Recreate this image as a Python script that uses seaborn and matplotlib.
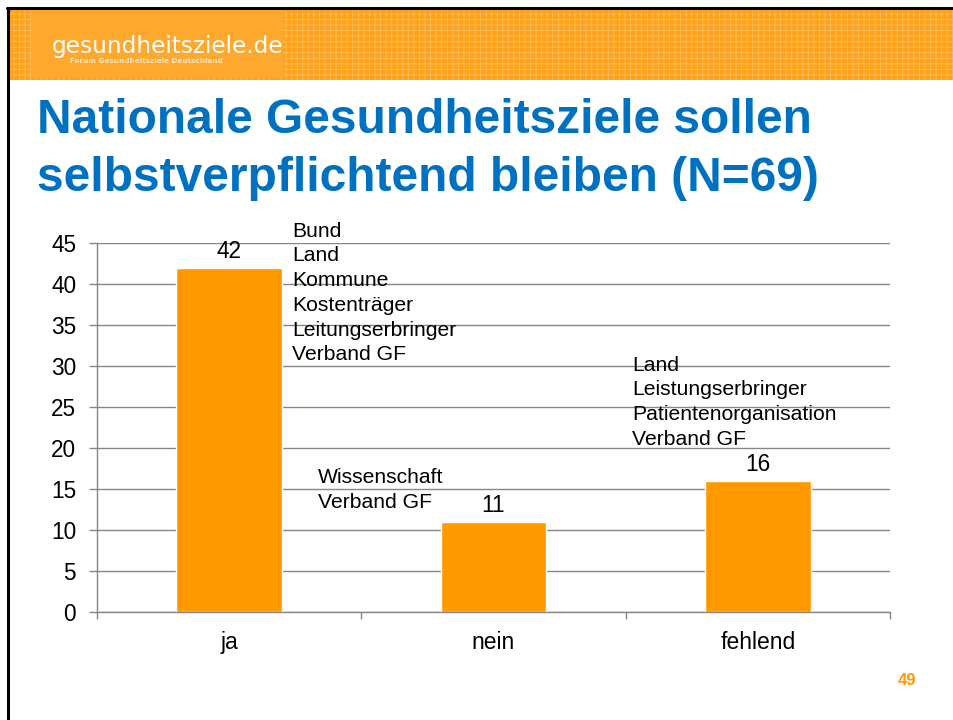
import matplotlib
matplotlib.use("Agg")
import matplotlib.pyplot as plt
import seaborn as sns
import pandas as pd
from matplotlib.patches import Rectangle
from matplotlib.lines import Line2D

# ---- data ----
categories = ["ja", "nein", "fehlend"]
values = [42, 11, 16]
yticks = [0, 5, 10, 15, 20, 25, 30, 35, 40, 45]
notes_ja = ["Bund", "Land", "Kommune", "Kostenträger", "Leitungserbringer", "Verband GF"]
notes_nein = ["Wissenschaft", "Verband GF"]
notes_fehlend = ["Land", "Leistungserbringer", "Patientenorganisation", "Verband GF"]
title_lines = ["Nationale Gesundheitsziele sollen", "selbstverpflichtend bleiben (N=69)"]
logo_text = "gesundheitsziele.de"
logo_sub = "Forum Gesundheitsziele Deutschland"
page_number = "49"

BAR = "#FF9900"
GRID = "#868686"
BLUE = "#0070C0"

sns.set_theme(style="white")
plt.rcParams["font.family"] = ["Liberation Sans", "DejaVu Sans"]
plt.rcParams["hatch.linewidth"] = 0.6

W, H = 954, 720
fig = plt.figure(figsize=(W / 100, H / 100), dpi=100)

# ---- header band & frame ----
fig.add_artist(Rectangle((9 / W, 1 - 80 / H), 1 - 9 / W, 70 / H, transform=fig.transFigure,
                         facecolor="#FFA21A", edgecolor="none", zorder=0))
fig.add_artist(Rectangle((9 / W, 1 - 80 / H), 1 - 9 / W, 70 / H, transform=fig.transFigure,
                         facecolor="none", edgecolor="#FFBE5C", hatch="+++", lw=0, zorder=0.5))
fig.add_artist(Rectangle((31 / W, 1 - 78 / H), (283 - 31) / W, 68 / H, transform=fig.transFigure,
                         facecolor="#FFA82E", edgecolor="none", zorder=0.6))
fig.add_artist(Line2D([7 / W, 1], [1 - 8 / H, 1 - 8 / H], transform=fig.transFigure,
                      color="black", lw=2.2, zorder=3))
fig.add_artist(Line2D([8 / W, 8 / W], [0, 1 - 8 / H], transform=fig.transFigure,
                      color="black", lw=2.2, zorder=3))
fig.text(52 / W, 1 - 53 / H, logo_text, color="white", fontsize=16.7,
         family=["DejaVu Sans"], va="baseline", ha="left", zorder=4)
fig.text(70 / W, 1 - 63 / H, logo_sub, color="#FFE6BF", fontsize=5.2, weight="bold",
         family=["DejaVu Sans"], va="baseline", ha="left", zorder=4)

# ---- title ----
fig.text(37 / W, 1 - 191 / H, "\n".join(title_lines), ha="left", va="baseline",
         fontsize=34.5, weight="bold", color=BLUE, linespacing=1.36)

# ---- chart ----
ax = fig.add_axes([97 / W, 1 - 612 / H, (890 - 97) / W, (612 - 243) / H])
df = pd.DataFrame({"Kategorie": categories, "Anzahl": values})
sns.barplot(data=df, x="Kategorie", y="Anzahl", color=BAR, saturation=1,
            width=0.4, ax=ax, zorder=2)
ax.set_xlim(-0.5, 2.5)
ax.set_ylim(0, 45)
ax.set_yticks(yticks)
ax.set_xlabel("")
ax.set_ylabel("")
ax.set_axisbelow(True)
ax.yaxis.grid(True, color=GRID, lw=1)
ax.xaxis.grid(False)
for s in ["top", "right"]:
    ax.spines[s].set_visible(False)
for s in ["left", "bottom"]:
    ax.spines[s].set_color(GRID)
    ax.spines[s].set_linewidth(1)
ax.tick_params(axis="y", which="major", left=True, length=6, width=1, color=GRID,
               direction="out", pad=9, labelsize=16.3, labelcolor="black")
ax.tick_params(axis="x", which="major", bottom=False, length=0, pad=14, labelsize=16.5,
               labelcolor="black")
ax.set_xticks([-0.5, 0.5, 1.5, 2.5], minor=True)
ax.tick_params(axis="x", which="minor", bottom=True, length=5, width=1, color=GRID,
               direction="out")

for i, v in enumerate(values):
    ax.annotate(str(v), (i, v), xytext=(0, 7), textcoords="offset points",
                ha="center", va="baseline", fontsize=16.3, color="black")

note_kw = dict(ha="left", va="baseline", fontsize=15.2, linespacing=1.38, color="black")
ax.text(0.2377, 30.7, "\n".join(notes_ja), **note_kw)
ax.text(0.336, 12.7, "\n".join(notes_nein), **note_kw)
ax.text(1.524, 20.4, "\n".join(notes_fehlend), **note_kw)

# ---- page number ----
fig.text(907 / W, 1 - 685 / H, page_number, ha="center", va="baseline",
         fontsize=12, weight="bold", color=BAR)

fig.savefig("out.png", dpi=100)
